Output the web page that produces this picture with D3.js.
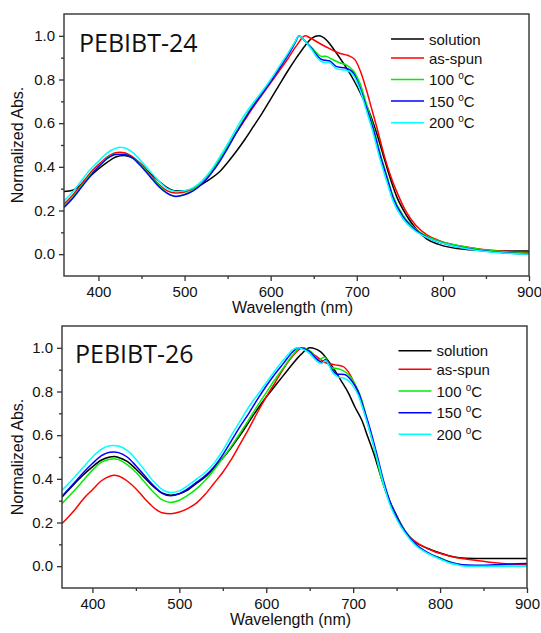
<!DOCTYPE html>
<html>
<head>
<meta charset="utf-8">
<script src="https://cdn.jsdelivr.net/npm/d3@7"></script>
<style>
  body { margin: 0; background: #fff; }
  text { font-family: "Liberation Sans", Arial, sans-serif; fill: #111; }
</style>
</head>
<body>
<div id="container"></div>
<script>
let w = 541;
let h = 633;

// legend entries, same order in both panels
let seriesNames = ["solution", "as-spun", "100 °C", "150 °C", "200 °C"];
let seriesColors = ["#000000", "#ff0000", "#00ee00", "#0000ff", "#00ffff"];

let xTicks = [400, 500, 600, 700, 800, 900];
let xMinorTicks = [450, 550, 650, 750, 850];
let yTicks = [0.0, 0.2, 0.4, 0.6, 0.8, 1.0];
let yMinorTicks = [0.1, 0.3, 0.5, 0.7, 0.9];

// ---- PEBIBT-24, [wavelength nm, normalized abs]
let p24Solution = [[360,0.287],[370,0.293],[380,0.32],[390,0.355],[400,0.39],[410,0.42],[420,0.445],[430,0.452],[440,0.44],[450,0.41],[460,0.37],[470,0.335],[480,0.305],[490,0.29],[500,0.29],[510,0.3],[520,0.32],[530,0.345],[540,0.375],[550,0.42],[560,0.47],[570,0.525],[580,0.585],[590,0.645],[600,0.71],[610,0.775],[620,0.84],[630,0.9],[640,0.955],[648,0.99],[656,1.0],[665,0.98],[673,0.94],[684,0.877],[696,0.8],[707,0.715],[715,0.647],[723,0.555],[731,0.45],[738,0.358],[746,0.267],[758,0.176],[769,0.115],[781,0.07],[795,0.045],[810,0.03],[825,0.022],[840,0.018],[860,0.015],[900,0.015]];
let p24AsSpun = [[360,0.229],[370,0.27],[380,0.32],[390,0.37],[400,0.41],[410,0.445],[420,0.465],[425,0.467],[430,0.465],[440,0.445],[450,0.41],[460,0.365],[470,0.32],[480,0.29],[490,0.28],[500,0.285],[510,0.3],[520,0.33],[530,0.37],[540,0.43],[550,0.49],[560,0.555],[570,0.615],[580,0.675],[590,0.73],[600,0.785],[610,0.84],[620,0.895],[630,0.955],[640,1.0],[646,0.99],[657,0.965],[669,0.94],[680,0.92],[690,0.91],[698,0.89],[705,0.83],[711,0.755],[717,0.67],[723,0.585],[731,0.464],[738,0.373],[746,0.29],[758,0.19],[769,0.13],[781,0.09],[795,0.063],[810,0.045],[825,0.034],[840,0.025],[860,0.017],[880,0.012],[900,0.008]];
let p24Anneal100 = [[360,0.22],[370,0.26],[380,0.31],[390,0.36],[400,0.4],[410,0.44],[420,0.458],[430,0.458],[440,0.44],[450,0.405],[460,0.36],[470,0.315],[480,0.28],[490,0.265],[500,0.275],[510,0.295],[520,0.33],[530,0.375],[540,0.43],[550,0.495],[560,0.56],[570,0.625],[580,0.685],[590,0.74],[600,0.795],[610,0.855],[620,0.915],[628,0.97],[633,1.0],[640,0.975],[648,0.945],[655,0.915],[660,0.905],[664,0.907],[670,0.895],[680,0.877],[688,0.866],[696,0.84],[704,0.78],[711,0.69],[719,0.585],[727,0.464],[735,0.358],[742,0.267],[754,0.176],[766,0.123],[781,0.082],[795,0.06],[810,0.045],[825,0.034],[840,0.024],[860,0.014],[880,0.008],[900,0.004]];
let p24Anneal150 = [[360,0.214],[370,0.255],[380,0.305],[390,0.355],[400,0.4],[410,0.437],[420,0.457],[430,0.457],[440,0.44],[450,0.4],[460,0.355],[470,0.31],[480,0.278],[490,0.264],[500,0.272],[510,0.29],[520,0.32],[530,0.365],[540,0.42],[550,0.485],[560,0.555],[570,0.62],[580,0.68],[590,0.735],[600,0.79],[610,0.85],[620,0.91],[628,0.965],[633,1.0],[640,0.975],[648,0.94],[655,0.905],[660,0.89],[664,0.888],[668,0.886],[676,0.86],[683,0.855],[690,0.848],[696,0.83],[704,0.76],[711,0.675],[719,0.575],[727,0.455],[735,0.35],[742,0.26],[754,0.17],[766,0.118],[781,0.078],[795,0.056],[810,0.04],[825,0.028],[840,0.018],[860,0.01],[880,0.004],[900,0.001]];
let p24Anneal200 = [[360,0.244],[370,0.285],[380,0.335],[390,0.385],[400,0.425],[410,0.463],[420,0.485],[425,0.49],[430,0.487],[440,0.465],[450,0.425],[460,0.38],[470,0.335],[480,0.3],[490,0.287],[500,0.29],[510,0.305],[520,0.335],[530,0.38],[540,0.44],[550,0.505],[560,0.575],[570,0.64],[580,0.695],[590,0.745],[600,0.8],[610,0.86],[620,0.92],[628,0.97],[633,1.0],[640,0.975],[648,0.935],[655,0.895],[660,0.88],[664,0.878],[668,0.878],[676,0.85],[683,0.845],[690,0.84],[696,0.82],[704,0.75],[711,0.66],[719,0.555],[727,0.434],[735,0.33],[742,0.244],[754,0.16],[766,0.112],[781,0.077],[795,0.056],[810,0.04],[825,0.027],[840,0.017],[860,0.009],[880,0.003],[900,0.0]];

// ---- PEBIBT-26
let p26Solution = [[365,0.317],[380,0.38],[390,0.42],[400,0.455],[410,0.485],[420,0.5],[425,0.502],[430,0.498],[440,0.48],[450,0.445],[460,0.405],[470,0.365],[480,0.335],[490,0.325],[500,0.332],[510,0.35],[520,0.38],[530,0.41],[540,0.45],[550,0.495],[560,0.545],[570,0.6],[580,0.66],[590,0.72],[600,0.775],[610,0.825],[620,0.875],[630,0.925],[640,0.97],[650,1.0],[663,0.98],[671,0.942],[679,0.896],[686,0.85],[694,0.797],[702,0.729],[710,0.668],[717,0.59],[725,0.5],[732,0.408],[740,0.317],[748,0.248],[759,0.165],[771,0.111],[786,0.081],[800,0.06],[810,0.048],[820,0.04],[830,0.036],[850,0.035],[900,0.035]];
let p26AsSpun = [[365,0.195],[380,0.26],[390,0.31],[400,0.35],[410,0.39],[420,0.412],[425,0.416],[430,0.413],[440,0.39],[450,0.355],[460,0.31],[470,0.27],[480,0.245],[490,0.24],[500,0.248],[510,0.265],[520,0.29],[530,0.33],[540,0.38],[550,0.43],[560,0.49],[570,0.56],[580,0.63],[590,0.705],[600,0.775],[610,0.84],[620,0.905],[630,0.96],[642,1.0],[656,0.965],[667,0.934],[679,0.922],[688,0.915],[696,0.88],[704,0.81],[711,0.729],[719,0.622],[727,0.5],[734,0.386],[742,0.294],[752,0.21],[763,0.142],[778,0.096],[794,0.066],[810,0.048],[825,0.035],[840,0.027],[860,0.017],[880,0.01],[900,0.008]];
let p26Anneal100 = [[365,0.287],[380,0.35],[390,0.395],[400,0.44],[410,0.475],[420,0.49],[425,0.492],[430,0.488],[440,0.465],[450,0.43],[460,0.385],[470,0.34],[480,0.305],[490,0.292],[500,0.302],[510,0.325],[520,0.355],[530,0.395],[540,0.442],[550,0.495],[560,0.55],[570,0.61],[580,0.672],[590,0.735],[600,0.795],[610,0.855],[620,0.91],[630,0.965],[640,1.0],[652,0.98],[660,0.945],[667,0.957],[675,0.91],[686,0.9],[694,0.88],[702,0.835],[710,0.76],[717,0.652],[725,0.53],[732,0.408],[740,0.317],[748,0.24],[759,0.165],[771,0.104],[786,0.061],[800,0.038],[810,0.022],[820,0.01],[830,0.004],[850,0.0],[900,0.0]];
let p26Anneal150 = [[365,0.32],[380,0.385],[390,0.43],[400,0.47],[410,0.505],[420,0.522],[425,0.523],[430,0.52],[440,0.5],[450,0.46],[460,0.415],[470,0.37],[480,0.335],[490,0.322],[500,0.332],[510,0.355],[520,0.385],[530,0.415],[540,0.456],[550,0.51],[560,0.575],[570,0.64],[580,0.7],[590,0.765],[600,0.825],[610,0.88],[620,0.93],[630,0.98],[637,1.0],[648,0.988],[660,0.942],[664,0.934],[668,0.945],[675,0.904],[681,0.88],[690,0.878],[698,0.85],[706,0.797],[713,0.713],[721,0.607],[729,0.485],[735,0.39],[742,0.3],[750,0.225],[760,0.158],[771,0.104],[786,0.062],[800,0.036],[810,0.02],[820,0.01],[830,0.005],[850,0.004],[870,0.008],[900,0.012]];
let p26Anneal200 = [[365,0.348],[380,0.41],[390,0.455],[400,0.5],[410,0.535],[420,0.552],[425,0.553],[430,0.55],[440,0.53],[450,0.49],[460,0.44],[470,0.39],[480,0.352],[490,0.337],[500,0.345],[510,0.37],[520,0.4],[530,0.43],[540,0.472],[550,0.53],[560,0.6],[570,0.665],[580,0.73],[590,0.785],[600,0.84],[610,0.895],[620,0.945],[630,0.99],[636,1.0],[648,0.98],[660,0.934],[664,0.928],[668,0.942],[677,0.884],[683,0.866],[690,0.861],[698,0.835],[706,0.782],[713,0.698],[721,0.59],[729,0.47],[735,0.375],[742,0.285],[750,0.215],[760,0.15],[771,0.098],[786,0.058],[800,0.032],[810,0.016],[820,0.006],[830,0.0],[900,0.0]];

// layout of the two panels (pixels)
let panels = [
  { title: "PEBIBT-24", xDomain: [360, 900],
    series: [p24Solution, p24AsSpun, p24Anneal100, p24Anneal150, p24Anneal200],
    left: 64, right: 529, top: 14, bottom: 276,
    titleX: 79, titleY: 52, legendX: 391, legendY: [39, 58, 79.5, 101, 122.7] },
  { title: "PEBIBT-26", xDomain: [365, 900],
    series: [p26Solution, p26AsSpun, p26Anneal100, p26Anneal150, p26Anneal200],
    left: 62, right: 527, top: 326, bottom: 588,
    titleX: 75, titleY: 363, legendX: 398.5, legendY: [350.7, 369.3, 391, 412.7, 434.3] }
];

let viz = d3.select("#container")
  .append("svg")
    .attr("width", w)
    .attr("height", h)
    .style("background-color", "white");

function drawPanel(p, idx) {
  let g = viz.append("g").attr("class", "panel" + idx);

  let xScale = d3.scaleLinear().domain(p.xDomain).range([p.left, p.right]);
  let yScale = d3.scaleLinear().domain([-0.1, 1.1]).range([p.bottom, p.top]);

  // minor ticks first, then major ticks with labels
  let xMinor = d3.axisBottom(xScale).tickValues(xMinorTicks).tickSize(3).tickFormat("");
  let xAxis = d3.axisBottom(xScale).tickValues(xTicks).tickSize(5).tickPadding(5).tickFormat(d3.format("d"));
  let yMinor = d3.axisLeft(yScale).tickValues(yMinorTicks).tickSize(3).tickFormat("");
  let yAxis = d3.axisLeft(yScale).tickValues(yTicks).tickSize(5).tickPadding(4).tickFormat(d3.format(".1f"));

  [xMinor, xAxis].forEach(function(ax) {
    g.append("g").attr("transform", "translate(0," + p.bottom + ")").call(ax);
  });
  [yMinor, yAxis].forEach(function(ax) {
    g.append("g").attr("transform", "translate(" + p.left + ",0)").call(ax);
  });
  g.selectAll(".domain").remove();
  g.selectAll(".tick line").attr("stroke", "#333").attr("stroke-width", 1.3);
  g.selectAll(".tick text")
    .style("font-family", "'Liberation Sans', Arial, sans-serif")
    .style("font-size", "15px")
    .attr("fill", "#111");

  let clipId = "clip" + idx;
  g.append("clipPath").attr("id", clipId)
    .append("rect")
      .attr("x", p.left).attr("y", p.top)
      .attr("width", p.right - p.left).attr("height", p.bottom - p.top);

  let line = d3.line()
    .x(function(d) { return xScale(d[0]); })
    .y(function(d) { return yScale(d[1]); })
    .curve(d3.curveMonotoneX);

  g.append("g").attr("clip-path", "url(#" + clipId + ")")
    .selectAll("path")
    .data(p.series)
    .enter()
    .append("path")
      .attr("d", line)
      .attr("fill", "none")
      .attr("stroke", function(d, i) { return seriesColors[i]; })
      .attr("stroke-width", 1.5);

  // frame
  g.append("rect")
    .attr("x", p.left).attr("y", p.top)
    .attr("width", p.right - p.left).attr("height", p.bottom - p.top)
    .attr("fill", "none")
    .attr("stroke", "#333")
    .attr("stroke-width", 1.4);

  g.append("text")
    .attr("x", p.titleX).attr("y", p.titleY)
    .style("font-family", "'Open Sans', 'Noto Sans', sans-serif")
    .style("font-size", "25px")
    .text(p.title);

  // legend
  seriesNames.forEach(function(name, i) {
    let ly = p.legendY[i];
    g.append("line")
      .attr("x1", p.legendX).attr("x2", p.legendX + 33)
      .attr("y1", ly).attr("y2", ly)
      .attr("stroke", seriesColors[i])
      .attr("stroke-width", 1.5);
    let t = g.append("text")
      .attr("x", p.legendX + 38).attr("y", ly + 5.5)
      .style("font-size", "15px");
    if (name.indexOf("°") > -1) {
      let parts = name.split("°");
      t.append("tspan").text(parts[0]);
      t.append("tspan").attr("dy", -6).style("font-size", "10px").text("o");
      t.append("tspan").attr("dy", 6).text(parts[1]);
    } else {
      t.text(name);
    }
  });

  // axis titles
  g.append("text")
    .attr("x", (p.left + p.right) / 2 - 4)
    .attr("y", p.bottom + 37)
    .attr("text-anchor", "middle")
    .style("font-size", "16px")
    .text("Wavelength (nm)");

  g.append("text")
    .attr("transform", "translate(23," + ((p.top + p.bottom) / 2) + ") rotate(-90)")
    .attr("text-anchor", "middle")
    .style("font-size", "16px")
    .text("Normalized Abs.");
}

panels.forEach(drawPanel);
</script>
</body>
</html>
